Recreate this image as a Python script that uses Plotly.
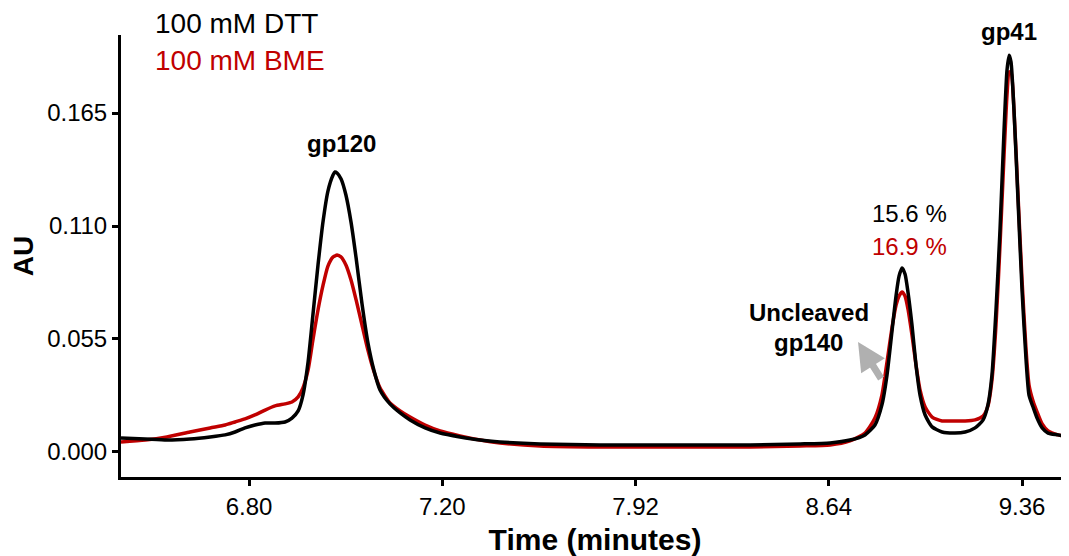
import plotly.graph_objects as go

# Retention time (minutes) and absorbance (AU)
time_min = [6.003, 6.093, 6.174, 6.260, 6.335, 6.391, 6.428, 6.465, 6.502, 6.540,
            6.577, 6.614, 6.640, 6.663, 6.681, 6.700, 6.718, 6.737, 6.756, 6.774,
            6.793, 6.800, 6.808, 6.823, 6.841, 6.860, 6.879, 6.901, 6.923, 6.946,
            6.968, 7.005, 7.043, 7.080, 7.136, 7.192, 7.266, 7.341, 7.415, 7.564,
            7.788, 7.974, 8.160, 8.347, 8.533, 8.645, 8.719, 8.775, 8.812, 8.838,
            8.857, 8.876, 8.891, 8.902, 8.913, 8.924, 8.935, 8.950, 8.965, 8.980,
            8.999, 9.025, 9.062, 9.110, 9.148, 9.185, 9.215, 9.233, 9.248, 9.263,
            9.278, 9.293, 9.304, 9.312, 9.319, 9.330, 9.345, 9.360, 9.375, 9.386,
            9.401, 9.416, 9.435, 9.457, 9.494, 9.535]

au_dtt = [0.0068, 0.0063, 0.0058, 0.0063, 0.0073, 0.0083, 0.0097, 0.0117, 0.0131, 0.0141,
          0.0141, 0.0146, 0.0165, 0.0200, 0.0277, 0.0438, 0.0667, 0.0910, 0.1124, 0.1270,
          0.1348, 0.1363, 0.1358, 0.1329, 0.1251, 0.1119, 0.0944, 0.0720, 0.0531, 0.0394,
          0.0302, 0.0234, 0.0190, 0.0156, 0.0117, 0.0092, 0.0073, 0.0058, 0.0049, 0.0039,
          0.0034, 0.0034, 0.0034, 0.0034, 0.0039, 0.0044, 0.0058, 0.0083, 0.0131, 0.0229,
          0.0375, 0.0594, 0.0764, 0.0857, 0.0896, 0.0866, 0.0779, 0.0618, 0.0423, 0.0277,
          0.0180, 0.0122, 0.0097, 0.0092, 0.0097, 0.0117, 0.0156, 0.0229, 0.0375, 0.0691,
          0.1081, 0.1567, 0.1859, 0.1932, 0.1898, 0.1665, 0.1227, 0.0789, 0.0448, 0.0277,
          0.0219, 0.0165, 0.0117, 0.0092, 0.0083, 0.0073]

au_bme = [0.0049, 0.0058, 0.0073, 0.0097, 0.0117, 0.0131, 0.0146, 0.0161, 0.0180, 0.0204,
          0.0224, 0.0234, 0.0243, 0.0268, 0.0312, 0.0399, 0.0545, 0.0691, 0.0813, 0.0905,
          0.0949, 0.0954, 0.0959, 0.0949, 0.0910, 0.0837, 0.0740, 0.0618, 0.0496, 0.0389,
          0.0312, 0.0239, 0.0200, 0.0170, 0.0131, 0.0102, 0.0078, 0.0058, 0.0044, 0.0029,
          0.0024, 0.0024, 0.0024, 0.0024, 0.0029, 0.0034, 0.0054, 0.0092, 0.0165, 0.0277,
          0.0438, 0.0608, 0.0716, 0.0759, 0.0779, 0.0759, 0.0696, 0.0569, 0.0423, 0.0302,
          0.0219, 0.0170, 0.0151, 0.0151, 0.0151, 0.0156, 0.0175, 0.0224, 0.0350, 0.0618,
          0.1008, 0.1446, 0.1738, 0.1850, 0.1850, 0.1665, 0.1251, 0.0837, 0.0496, 0.0326,
          0.0248, 0.0195, 0.0136, 0.0102, 0.0083, 0.0073]

x_tick_vals = [6.48, 7.20, 7.92, 8.64, 9.36]
x_tick_text = ["6.80", "7.20", "7.92", "8.64", "9.36"]
y_tick_vals = [0.000, 0.055, 0.110, 0.165]

series_names = ["100 mM DTT", "100 mM BME"]
percent_labels = ["15.6 %", "16.9 %"]

BLACK = "#000000"
RED = "#C00000"
FONT = "Liberation Sans, Arial, sans-serif"

fig = go.Figure()
fig.add_trace(go.Scatter(x=time_min, y=au_bme, mode="lines", name=series_names[1],
                         line=dict(color=RED, width=3.5, shape="spline", smoothing=0.6)))
fig.add_trace(go.Scatter(x=time_min, y=au_dtt, mode="lines", name=series_names[0],
                         line=dict(color=BLACK, width=3.5, shape="spline", smoothing=0.6)))


def label(x, y, text, color=BLACK, size=24, yref="y", xanchor="center"):
    return dict(x=x, y=y, xref="x", yref=yref, text=text, showarrow=False,
                xanchor=xanchor, yanchor="middle",
                font=dict(family=FONT, size=size, color=color))


ann = [
    # legend-like labels (above plot area -> paper y)
    label(6.122, 1.027, series_names[0], size=28, yref="paper", xanchor="left"),
    label(6.122, 0.9434, series_names[1], color=RED, size=28, yref="paper", xanchor="left"),
    # peak labels
    label(6.826, 0.1504, "<b>gp120</b>"),
    label(9.312, 1.0068, "<b>gp41</b>", yref="paper"),
    label(8.939, 0.1163, percent_labels[0]),
    label(8.939, 0.0998, percent_labels[1], color=RED),
    label(8.566, 0.0677, "<b>Uncleaved</b>"),
    label(8.563, 0.0531, "<b>gp140</b>"),
    # gray arrow
    dict(x=8.749, y=0.0535, ax=24, ay=38, text="", showarrow=True,
         arrowhead=2, arrowsize=0.8, arrowwidth=7, arrowcolor="#b0b0b0"),
]

# page body has an 8px margin: size and margins compensate for it
fig.update_layout(
    width=1061, height=548,
    margin=dict(l=113, r=0, t=27, b=79),
    plot_bgcolor="white", paper_bgcolor="white",
    showlegend=False,
    annotations=ann,
    font=dict(family=FONT, color=BLACK),
)
fig.update_xaxes(
    range=[6.003, 9.535], tickvals=x_tick_vals, ticktext=x_tick_text,
    showline=True, linecolor=BLACK, linewidth=3, ticks="outside", ticklen=6,
    tickwidth=3, tickcolor=BLACK, showgrid=False, zeroline=False,
    tickfont=dict(family=FONT, size=24, color=BLACK),
    title=dict(text="<b>Time (minutes)</b>", font=dict(family=FONT, size=30, color=BLACK),
               standoff=11),
)
fig.update_yaxes(
    range=[-0.0122, 0.203], tickvals=y_tick_vals, tickformat=".3f",
    showline=True, linecolor=BLACK, linewidth=3, ticks="outside", ticklen=6,
    tickwidth=3, tickcolor=BLACK, showgrid=False, zeroline=False,
    tickfont=dict(family=FONT, size=24, color=BLACK),
    title=dict(text="<b>AU</b>", font=dict(family=FONT, size=28, color=BLACK),
               standoff=10),
)

fig.write_html("out.html")
